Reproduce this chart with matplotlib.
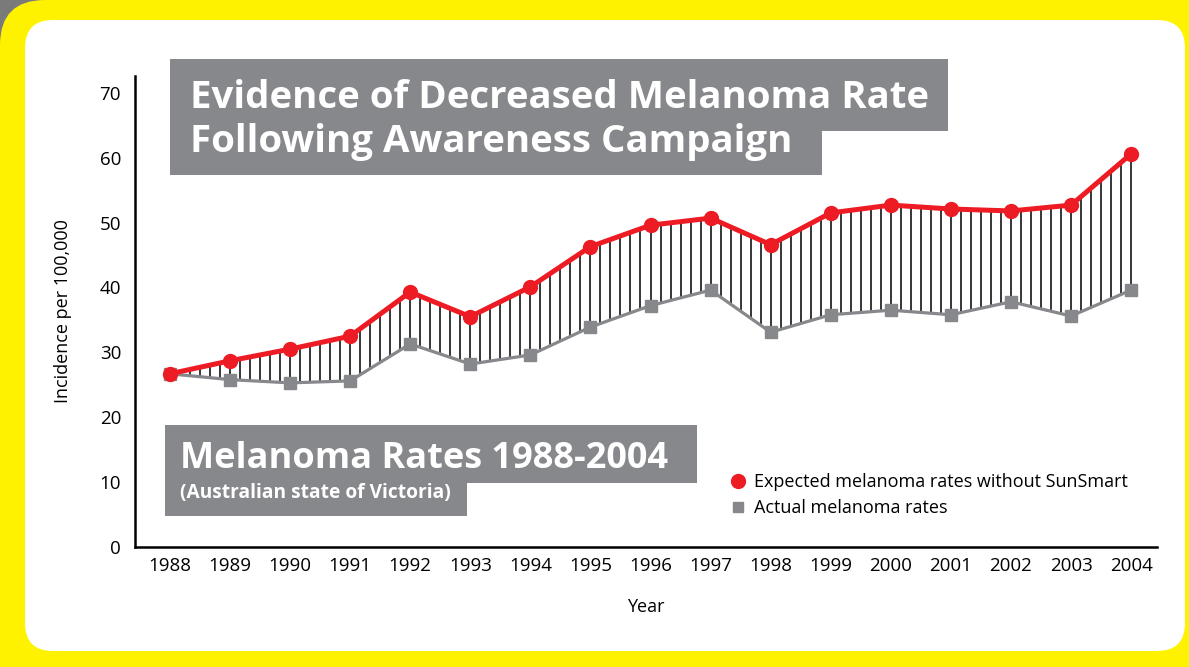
import numpy as np
import matplotlib
matplotlib.use("Agg")
import matplotlib.pyplot as plt
from matplotlib.patches import FancyBboxPatch, Rectangle
from matplotlib.lines import Line2D

# Daten
years = np.arange(1988, 2005)
expected = [26.7, 28.7, 30.5, 32.5, 39.3, 35.5, 40.1, 46.3, 49.6, 50.7,
            46.6, 51.5, 52.7, 52.1, 51.8, 52.7, 60.6]
actual = [26.7, 25.8, 25.3, 25.6, 31.3, 28.2, 29.6, 33.9, 37.2, 39.6,
          33.1, 35.8, 36.5, 35.8, 37.8, 35.6, 39.6]
yticks = [0, 10, 20, 30, 40, 50, 60, 70]

RED = "#ED1C24"
GREY = "#87888B"
YELLOW = "#FFF200"

plt.rcParams['font.family'] = ['Open Sans', 'DejaVu Sans']

W, H = 1189, 667
fig = plt.figure(figsize=(W/100, H/100), dpi=100)
fig.patch.set_facecolor(YELLOW)

# Hintergrund in Pixelkoordinaten
bg = fig.add_axes([0, 0, 1, 1])
bg.set_xlim(0, W)
bg.set_ylim(H, 0)
bg.axis("off")
bg.add_patch(Rectangle((0, 0), 50, 50, fc="#7a7a7a", ec="none"))
bg.add_patch(FancyBboxPatch((0, 0), W + 200, H + 200, boxstyle="round,pad=0,rounding_size=45",
                            fc=YELLOW, ec="none"))
bg.add_patch(FancyBboxPatch((25, 20), 1185 - 25, 651 - 20,
                            boxstyle="round,pad=0,rounding_size=28",
                            fc="white", ec="none"))

# Titelkästen
bg.add_patch(Rectangle((170, 59), 948 - 170, 131 - 59, fc=GREY, ec="none"))
bg.add_patch(Rectangle((170, 130), 822 - 170, 175 - 130, fc=GREY, ec="none"))
bg.add_patch(Rectangle((165, 425), 697 - 165, 483 - 425, fc=GREY, ec="none"))
bg.add_patch(Rectangle((165, 482), 467 - 165, 516 - 482, fc=GREY, ec="none"))

bg.text(190, 108, "Evidence of Decreased Melanoma Rate", color="white",
        fontsize=27.6, fontweight="bold", va="baseline")
bg.text(190, 152, "Following Awareness Campaign", color="white",
        fontsize=27.6, fontweight="bold", va="baseline")
bg.text(180, 468, "Melanoma Rates 1988-2004", color="white",
        fontsize=26, fontweight="bold", va="baseline")
bg.text(180, 498, "(Australian state of Victoria)", color="white",
        fontsize=13.8, fontweight="bold", va="baseline")

# Diagramm
ax = fig.add_axes([135/W, 1 - 547/H, (1157 - 135)/W, (547 - 76)/H])
ax.patch.set_alpha(0)
ax.set_xlim(1987.42, 2004.43)
ax.set_ylim(0, 72.6)

# senkrechte Schraffur zwischen den Linien
xs = np.arange(years[0], years[-1] + 0.01, 1/6)
ax.vlines(xs, np.interp(xs, years, actual), np.interp(xs, years, expected),
          color="black", lw=1.1, zorder=1)

ax.plot(years, actual, color=GREY, lw=2.3, marker="s", ms=8, zorder=3)
ax.plot(years, expected, color=RED, lw=3.6, marker="o", ms=10, zorder=4)

for s in ["top", "right"]:
    ax.spines[s].set_visible(False)
for s in ["left", "bottom"]:
    ax.spines[s].set_linewidth(1.8)
ax.set_xticks(years)
ax.set_yticks(yticks)
ax.tick_params(axis="x", length=0, pad=7, labelsize=13.5)
ax.tick_params(axis="y", length=0, pad=10, labelsize=13.5)
ax.set_xlabel("Year", fontsize=13, labelpad=17)
ax.set_ylabel("Incidence per 100,000", fontsize=13, labelpad=20)

handles = [Line2D([], [], ls="none", marker="o", ms=10, color=RED),
           Line2D([], [], ls="none", marker="s", ms=7, color=GREY)]
ax.legend(handles, ["Expected melanoma rates without SunSmart", "Actual melanoma rates"],
          loc="upper left", bbox_to_anchor=(722/W, 1 - 464/H), bbox_transform=fig.transFigure,
          frameon=False, fontsize=13, handlelength=0.8, handletextpad=0.5,
          labelspacing=0.45, borderpad=0)

fig.savefig("out.png", dpi=100, facecolor=fig.get_facecolor())
